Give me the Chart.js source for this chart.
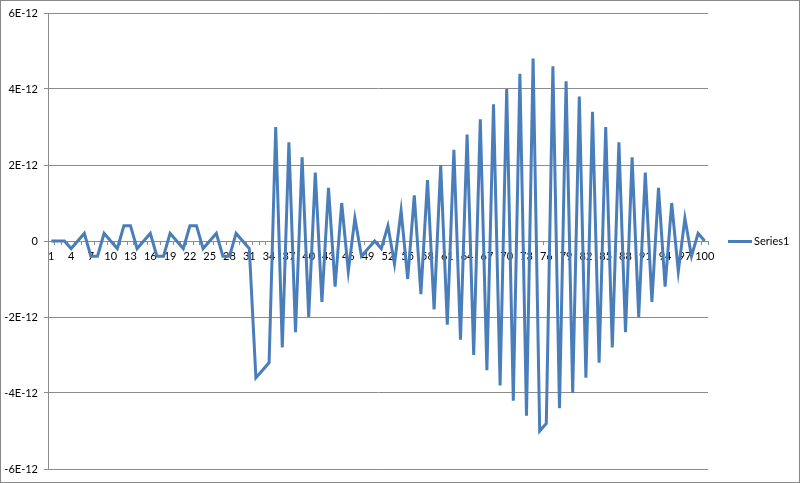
<!DOCTYPE html>
<html>
<head>
<meta charset="utf-8">
<script src="https://cdn.jsdelivr.net/npm/chart.js@4/dist/chart.umd.min.js"></script>
<style>
  html, body { margin: 0; padding: 0; background: #fff; }
  #wrap { width: 800px; height: 483px; position: relative; }
</style>
</head>
<body>
<div id="wrap"><canvas id="seriesChart"></canvas></div>
<script>
(function() {
  "use strict";

  // categories 1..100
  var categories = [
    1, 2, 3, 4, 5, 6, 7, 8, 9, 10, 11, 12, 13, 14, 15, 16, 17, 18, 19, 20,
    21, 22, 23, 24, 25, 26, 27, 28, 29, 30, 31, 32, 33, 34, 35, 36, 37, 38, 39, 40,
    41, 42, 43, 44, 45, 46, 47, 48, 49, 50, 51, 52, 53, 54, 55, 56, 57, 58, 59, 60,
    61, 62, 63, 64, 65, 66, 67, 68, 69, 70, 71, 72, 73, 74, 75, 76, 77, 78, 79, 80,
    81, 82, 83, 84, 85, 86, 87, 88, 89, 90, 91, 92, 93, 94, 95, 96, 97, 98, 99, 100
  ];

  // Series1 values
  var series1 = [
    0, 0, 0, -0.2e-12, 0, 0.2e-12, -0.4e-12, -0.4e-12, 0.2e-12, 0,
    -0.2e-12, 0.4e-12, 0.4e-12, -0.2e-12, 0, 0.2e-12, -0.4e-12, -0.4e-12, 0.2e-12, 0,
    -0.2e-12, 0.4e-12, 0.4e-12, -0.2e-12, 0, 0.2e-12, -0.4e-12, -0.4e-12, 0.2e-12, 0,
    -0.2e-12, -3.6e-12, -3.4e-12, -3.2e-12, 3.0e-12, -2.8e-12, 2.6e-12, -2.4e-12, 2.2e-12, -2.0e-12,
    1.8e-12, -1.6e-12, 1.4e-12, -1.2e-12, 1.0e-12, -0.8e-12, 0.6e-12, -0.4e-12, -0.2e-12, 0,
    -0.2e-12, 0.4e-12, -0.6e-12, 0.8e-12, -1.0e-12, 1.2e-12, -1.4e-12, 1.6e-12, -1.8e-12, 2.0e-12,
    -2.2e-12, 2.4e-12, -2.6e-12, 2.8e-12, -3.0e-12, 3.2e-12, -3.4e-12, 3.6e-12, -3.8e-12, 4.0e-12,
    -4.2e-12, 4.4e-12, -4.6e-12, 4.8e-12, -5.0e-12, -4.8e-12, 4.6e-12, -4.4e-12, 4.2e-12, -4.0e-12,
    3.8e-12, -3.6e-12, 3.4e-12, -3.2e-12, 3.0e-12, -2.8e-12, 2.6e-12, -2.4e-12, 2.2e-12, -2.0e-12,
    1.8e-12, -1.6e-12, 1.4e-12, -1.2e-12, 1.0e-12, -0.8e-12, 0.6e-12, -0.4e-12, 0.2e-12, 0
  ];

  var yTickLabels = ['-6E-12', '-4E-12', '-2E-12', '0', '2E-12', '4E-12', '6E-12'];
  var seriesName = 'Series1';

  var lineColor = '#4A7EBB';
  var gridColor = '#8c8c8c';
  var fontFamily = 'Lato, "Open Sans", sans-serif';

  // grey frame round the whole chart
  var chartFrame = {
    id: 'chartFrame',
    beforeDraw: function(chart) {
      var c = chart.ctx;
      c.save();
      c.fillStyle = '#fff';
      c.fillRect(0, 0, chart.width, chart.height);
      c.strokeStyle = '#888';
      c.lineWidth = 1;
      c.strokeRect(0.5, 0.5, chart.width - 1, chart.height - 1);
      c.restore();
    }
  };

  // excel style legend on the right
  var sideLegend = {
    id: 'sideLegend',
    afterDraw: function(chart) {
      var c = chart.ctx;
      var area = chart.chartArea;
      var y = Math.round((area.top + area.bottom) / 2) + 0.5;
      var x = area.right + 20;
      c.save();
      c.strokeStyle = lineColor;
      c.lineWidth = 3;
      c.beginPath();
      c.moveTo(x, y);
      c.lineTo(x + 24, y);
      c.stroke();
      c.fillStyle = '#000';
      c.font = '11px ' + fontFamily;
      c.textBaseline = 'middle';
      c.textAlign = 'left';
      c.fillText(seriesName, x + 26, y);
      c.restore();
    }
  };

  var ctx = document.getElementById('seriesChart').getContext('2d');
  var seriesChart = new Chart(ctx, {
    type: 'line',
    data: {
      labels: categories,
      datasets: [{
        label: seriesName,
        data: series1,
        borderColor: lineColor,
        backgroundColor: lineColor,
        borderWidth: 3,
        pointRadius: 0,
        tension: 0,
        fill: false
      }]
    },
    options: {
      responsive: true,
      maintainAspectRatio: false,
      animation: false,
      layout: {
        padding: { top: 13, bottom: 14, left: 0, right: 92 }
      },
      plugins: {
        legend: { display: false },
        tooltip: { enabled: false }
      },
      scales: {
        x: {
          type: 'category',
          offset: true,
          position: { y: 0 },
          afterFit: function(scale) { scale.height = 0; },
          grid: {
            offset: true,
            drawOnChartArea: false,
            drawTicks: true,
            tickLength: 3,
            color: gridColor
          },
          border: { color: gridColor, width: 1 },
          ticks: {
            autoSkip: false,
            maxRotation: 0,
            minRotation: 0,
            padding: 6,
            color: '#000',
            font: { family: fontFamily, size: 11 },
            callback: function(value, index) {
              return index % 3 === 0 ? categories[index] : '';
            }
          }
        },
        y: {
          min: -6e-12,
          max: 6e-12,
          afterFit: function(scale) { scale.width = 48; },
          grid: {
            color: gridColor,
            tickLength: 4,
            drawTicks: true
          },
          border: { color: gridColor, width: 1 },
          ticks: {
            stepSize: 2e-12,
            padding: 6,
            color: '#000',
            font: { family: fontFamily, size: 11 },
            callback: function(value, index) {
              return yTickLabels[index];
            }
          }
        }
      }
    },
    plugins: [chartFrame, sideLegend]
  });
})();
</script>
</body>
</html>
